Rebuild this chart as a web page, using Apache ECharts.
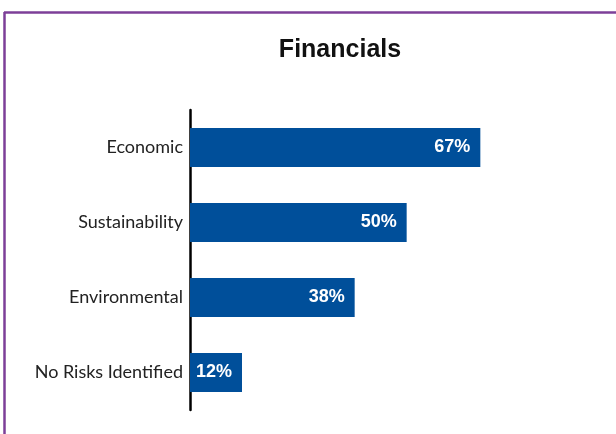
<!DOCTYPE html>
<html>
<head>
<meta charset="utf-8">
<script src="https://cdn.jsdelivr.net/npm/echarts@6/dist/echarts.min.js"></script>
<style>
html,body{margin:0;padding:0;background:#fff;}
#c{width:616px;height:434px;}
</style>
</head>
<body>
<div id="c"></div>
<script>
const categories = ["Economic", "Sustainability", "Environmental", "No Risks Identified"];
const values = [67, 50, 38, 12];
const titleText = "Financials";

const chart = echarts.init(document.getElementById('c'), null, {renderer: 'canvas'});
chart.setOption({
  animation: false,
  backgroundColor: '#ffffff',
  title: {
    text: titleText,
    left: 335,
    textAlign: 'center',
    top: 33,
    textStyle: {fontFamily: 'Liberation Sans, Arial, sans-serif', fontWeight: 'bold', fontSize: 25, color: '#111'}
  },
  graphic: [
    {type: 'line', shape: {x1: 4.5, y1: 12, x2: 4.5, y2: 434}, style: {stroke: '#7d3f98', lineWidth: 2.5}},
    {type: 'line', shape: {x1: 4, y1: 12.5, x2: 616, y2: 12.5}, style: {stroke: '#7d3f98', lineWidth: 2.5}}
  ],
  grid: {left: 190, top: 110, width: 390, height: 300, containLabel: false},
  xAxis: {
    type: 'value', min: 0, max: 90,
    show: false
  },
  yAxis: {
    type: 'category',
    data: categories,
    inverse: true,
    axisLine: {show: true, lineStyle: {color: '#000', width: 2.5}},
    axisTick: {show: false},
    axisLabel: {
      margin: 7,
      fontFamily: 'Lato, Open Sans, sans-serif',
      fontSize: 18,
      color: '#222',
      padding: [6, 0, 0, 0]
    }
  },
  series: [{
    type: 'bar',
    data: values,
    barWidth: 39,
    itemStyle: {color: '#004f9a'},
    label: {
      show: true,
      position: 'insideRight',
      distance: 10,
      formatter: '{c}%',
      color: '#fff',
      fontFamily: 'Liberation Sans, Arial, sans-serif',
      fontWeight: 'bold',
      fontSize: 18
    }
  }]
});
</script>
</body>
</html>
